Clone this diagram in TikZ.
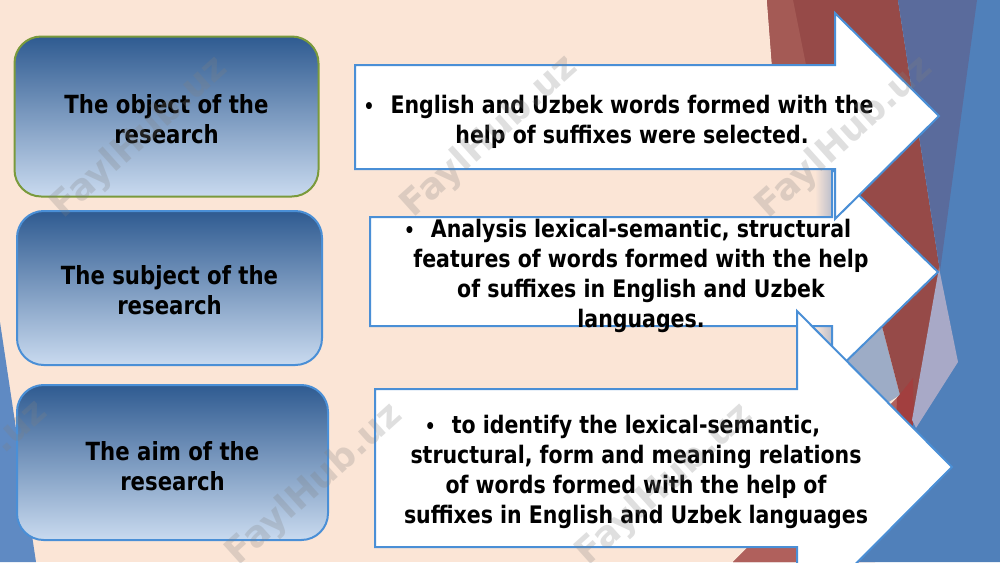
\documentclass[tikz,border=0pt]{standalone}
\usepackage{fontspec}
\setmainfont{DejaVu Sans}[FakeStretch=0.85]
\newfontfamily\wmfont{DejaVu Sans}
\definecolor{peach}{HTML}{FBE5D6}
\definecolor{sliver}{HTML}{5F8AC3}
\definecolor{redmain}{HTML}{964A48}
\definecolor{redlight}{HTML}{A45A55}
\definecolor{salmon}{HTML}{B0605C}
\definecolor{brightred}{HTML}{A23F3F}
\definecolor{bluegray}{HTML}{9DACC6}
\definecolor{slate}{HTML}{5A6B9C}
\definecolor{bluemain}{HTML}{5080BA}
\definecolor{lavender}{HTML}{A8A9C7}
\definecolor{arrowblue}{HTML}{4A8FD6}
\definecolor{olivebd}{HTML}{7A9A3C}
\definecolor{boxtop}{HTML}{2F5B91}
\definecolor{boxmid}{HTML}{819FC8}
\definecolor{boxbot}{HTML}{C9DAEF}
\newcommand{\blt}{\llap{{\fontsize{15}{15}\selectfont\textbullet}\hspace{12pt}}}
\begin{document}
\begin{tikzpicture}[x=0.75pt,y=-0.75pt,
  arrowshape/.style={fill=white,draw=arrowblue,line width=1.5pt,line join=miter},
  leftbox/.style={rounded corners=20pt,line width=1.5pt,top color=boxtop,middle color=boxmid,bottom color=boxbot},
  boxtext/.style={font={\fontsize{18.75}{22.5}\selectfont\bfseries},align=center,text=black,inner sep=0pt},
  arrowtext/.style={font={\fontsize{18.1}{22.5}\selectfont\bfseries},align=center,text=black,inner sep=0pt},
  wm/.style={font={\wmfont\fontsize{27}{30}\selectfont\bfseries},text=gray,text opacity=0.25,rotate=42}]
\useasboundingbox (0,0) rectangle (1000,562);
\begin{scope}
\clip (0,0) rectangle (1000,562);
% background
\fill[peach] (0,0) rectangle (1000,562);
\fill[sliver] (0,322) -- (36,562) -- (0,562) -- cycle;
\shade[left color=peach,right color=bluegray] (815,140) rectangle (840,420);
\fill[bluegray] (838,140) -- (845,217) -- (883,330) -- (900,395) -- (860,420) -- (838,420) -- cycle;
\fill[redmain] (767,0) -- (898,0) -- (940,271) -- (913,425) -- (860,562) -- (733,562) -- (900,395) -- (883,330) -- (845,217) -- (838,169) -- (772,65) -- cycle;
\fill[redlight] (767,0) -- (793,0) -- (815,110) -- (790,110) -- (772,65) -- cycle;
\fill[salmon] (733,562) -- (900,395) -- (905,420) -- (875,562) -- cycle;
\fill[brightred] (897,398) -- (913,378) -- (914,425) -- (895,455) -- cycle;
\fill[bluemain] (898,0) -- (1000,0) -- (1000,562) -- (860,562) -- (913,425) -- (940,271) -- cycle;
\fill[slate] (898,0) -- (977,0) -- (940,271) -- cycle;
\fill[lavender] (939,268) -- (958,362) -- (916,428) -- (912,420) -- cycle;
% left boxes
\node[leftbox,draw=olivebd,minimum width=228pt,minimum height=120pt] (obj) at (166.5,116.5) {};
\node[boxtext] (objtext) at (166.5,119.5) {The object of the\\research};
\node[leftbox,draw=arrowblue,minimum width=228.75pt,minimum height=115.5pt] (subj) at (169.5,288) {};
\node[boxtext] (subjtext) at (169.5,290.5) {The subject of the\\research};
\node[leftbox,draw=arrowblue,minimum width=233.25pt,minimum height=116.25pt] (aim) at (172.5,462.5) {};
\node[boxtext] (aimtext) at (172.5,466) {The aim of the\\research};
% arrows
\draw[arrowshape] (370,217) -- (832,217) -- (832,169) -- (938,272) -- (832,375) -- (832,326) -- (370,326) -- cycle;
\node[arrowtext] (t2) at (641,275.5) {\blt Analysis lexical-semantic, structural\\features of words formed with the help\\of suffixes in English and Uzbek\\languages.};
\draw[arrowshape] (355,65) -- (835,65) -- (835,13) -- (939,116) -- (835,219) -- (835,169) -- (355,169) -- cycle;
\node[arrowtext] (t1) at (632,122) {\blt English and Uzbek words formed with the\\help of suffixes were selected.};
\draw[arrowshape] (375,389) -- (797,389) -- (797,311) -- (952,467) -- (797,623) -- (797,547) -- (375,547) -- cycle;
\node[arrowtext] (t3) at (636,472) {\blt to identify the lexical-semantic,\\structural, form and meaning relations\\of words formed with the help of\\suffixes in English and Uzbek languages};
% watermarks
\node[wm] (wm1) at (140,138) {FaylHub.uz};
\node[wm] (wm2) at (490,137) {FaylHub.uz};
\node[wm] (wm3) at (845,138) {FaylHub.uz};
\node[wm] (wm4) at (-40,482) {FaylHub.uz};
\node[wm] (wm5) at (315,485) {FaylHub.uz};
\node[wm] (wm6) at (665,485) {FaylHub.uz};
\end{scope}
\end{tikzpicture}
\end{document}
